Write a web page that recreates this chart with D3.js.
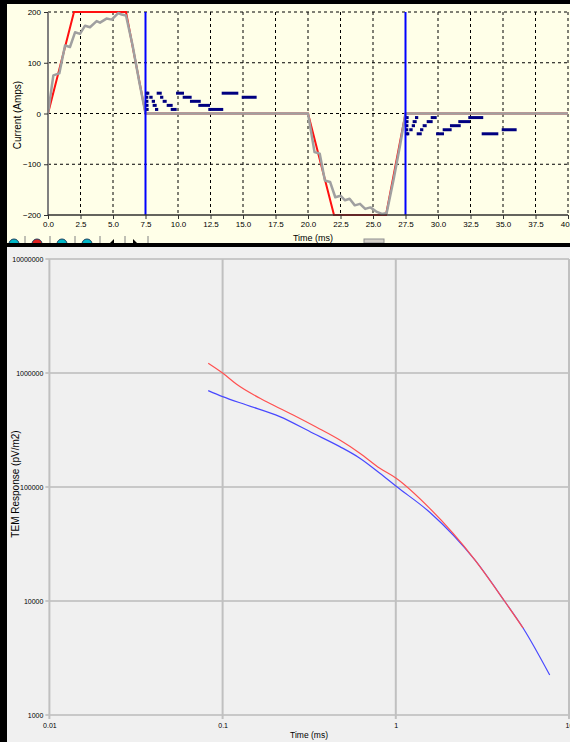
<!DOCTYPE html>
<html>
<head>
<meta charset="utf-8">
<script src="https://cdn.jsdelivr.net/npm/d3@7"></script>
<style>
  body { margin: 0; background: #000; }
  svg { display: block; font-family: "Liberation Sans", Arial, sans-serif; }
  .axis path { display: none; }
</style>
</head>
<body>
<script>
// top chart: transmitter current waveform
var waveTimes = [0, 2, 6, 7.5, 20, 22, 26, 27.5, 40];
var waveAmps = [0, 200, 200, 0, 0, -200, -200, 0, 0];

var measTimes = [0, 0.41, 0.87, 1.31, 1.69, 2.08, 2.46, 2.85, 3.23, 3.74, 4.0, 4.5, 4.9, 5.4, 5.67, 6.0, 6.5, 7.0, 7.5,
  20.0, 20.5, 20.9, 21.3, 21.7, 22.1, 22.5, 22.85, 23.2, 23.6, 24.0, 24.4, 24.8, 25.3, 25.7, 26.05, 26.6, 27.1, 27.5, 40];
var measAmps = [0, 75, 79, 134, 131, 160, 157, 173, 170, 182, 179, 187, 185, 198, 195, 193, 135, 65, 0,
  0, -76, -79, -132, -135, -165, -162, -171, -168, -181, -178, -188, -185, -194, -198, -196, -128, -60, 0, 0];

var offTimes = [7.5, 27.5];
var offSign = [1, -1];
// gate windows in ms after turn-off
var gateStart = [0.01, 0.02, 0.03, 0.04, 0.05, 0.10, 0.29, 0.48, 0.55, 0.73, 0.86, 1.12, 1.32, 1.63, 1.94, 2.35, 2.86, 3.42, 4.06, 4.83, 5.86, 7.40];
var gateEnd = [0.13, 0.12, 0.13, 0.14, 0.15, 0.22, 0.55, 0.73, 0.86, 0.98, 1.25, 1.37, 1.63, 2.09, 2.40, 2.96, 3.55, 4.25, 4.96, 5.98, 7.14, 8.55];
var gateLevels = [40, 32, 24, 16, 8];

var topXTicks = d3.range(0, 40.01, 2.5);
var topYTicks = [-200, -100, 0, 100, 200];

// bottom chart: decay curves
var redTimes = [0.0826, 0.1, 0.1205, 0.1795, 0.2556, 0.349, 0.475, 0.62, 0.809, 1.0, 1.57, 2.86, 4.26, 5.43];
var redResp = [1.22e6, 1.0e6, 7.96e5, 5.6e5, 4.28e5, 3.34e5, 2.58e5, 1.98e5, 1.46e5, 1.2e5, 6.5e4, 2.3e4, 9.9e3, 5.8e3];
var blueTimes = [0.0826, 0.1, 0.1375, 0.214, 0.333, 0.475, 0.62, 0.809, 1.0, 1.57, 2.86, 4.26, 5.43, 7.74];
var blueResp = [7.0e5, 6.2e5, 5.24e5, 4.14e5, 2.96e5, 2.26e5, 1.79e5, 1.32e5, 1.02e5, 6.0e4, 2.29e4, 9.9e3, 5.8e3, 2.24e3];

var logXTicks = [0.01, 0.1, 1, 10];
var logYTicks = [1000, 10000, 100000, 1000000, 10000000];

function main() {
  var svg = d3.select("body").append("svg")
    .attr("width", 570)
    .attr("height", 742);
  svg.append("rect").attr("width", 570).attr("height", 742).attr("fill", "#000");
  drawTop(svg.append("g"));
  drawBottom(svg.append("g"));
}

function drawTop(g) {
  g.append("rect").attr("x", 7).attr("y", 4).attr("width", 563).attr("height", 239).attr("fill", "#ffffe8");

  var x = d3.scaleLinear().domain([0, 40]).range([48, 568]);
  var y = d3.scaleLinear().domain([-200, 200]).range([215, 12]);

  // dashed grid
  g.selectAll(".vgrid").data(topXTicks.slice(1)).enter().append("line")
    .attr("x1", x).attr("x2", x).attr("y1", y(200)).attr("y2", y(-200))
    .attr("stroke", "#000").attr("stroke-dasharray", "3,3");
  g.selectAll(".hgrid").data(topYTicks.slice(1)).enter().append("line")
    .attr("x1", x(0)).attr("x2", x(40)).attr("y1", y).attr("y2", y)
    .attr("stroke", "#000").attr("stroke-dasharray", "3,3");

  var ideal = waveTimes.map(function(t, i) { return [t, waveAmps[i]]; });
  var meas = measTimes.map(function(t, i) { return [t, measAmps[i]]; });
  var line = d3.line().x(function(d) { return x(d[0]); }).y(function(d) { return y(d[1]); });

  g.append("path").attr("d", line(ideal)).attr("fill", "none").attr("stroke", "#ff1010").attr("stroke-width", 2);
  g.append("path").attr("d", line(meas)).attr("fill", "none").attr("stroke", "#a0a0a0").attr("stroke-width", 2.5)
    .attr("stroke-linejoin", "round");

  // turn-off markers
  g.selectAll(".off").data(offTimes).enter().append("line")
    .attr("x1", x).attr("x2", x).attr("y1", y(200)).attr("y2", y(-200))
    .attr("stroke", "#0000ff").attr("stroke-width", 2);

  // receiver gates
  for (var k = 0; k < offTimes.length; k++) {
    for (var i = 0; i < gateStart.length; i++) {
      var x1 = x(offTimes[k] + gateStart[i]);
      var x2 = Math.max(x(offTimes[k] + gateEnd[i]), x1 + 2.5);
      var gy = y(offSign[k] * gateLevels[i % 5]);
      g.append("line").attr("x1", x1).attr("x2", x2).attr("y1", gy).attr("y2", gy)
        .attr("stroke", "#000080").attr("stroke-width", 3);
    }
  }

  // axes
  g.append("line").attr("x1", x(0)).attr("x2", x(0)).attr("y1", y(200)).attr("y2", y(-200))
    .attr("stroke", "#808080").attr("stroke-width", 2);
  g.append("line").attr("x1", x(0)).attr("x2", x(40)).attr("y1", y(-200)).attr("y2", y(-200))
    .attr("stroke", "#303030").attr("stroke-width", 1.5);

  var ax = g.append("g").attr("class", "axis").attr("transform", "translate(0," + y(-200) + ")")
    .call(d3.axisBottom(x).tickValues(topXTicks).tickFormat(d3.format(".1f")).tickSize(4).tickPadding(2));
  var ay = g.append("g").attr("class", "axis").attr("transform", "translate(" + x(0) + ",0)")
    .call(d3.axisLeft(y).tickValues(topYTicks).tickFormat(d3.format("d")).tickSize(4).tickPadding(3));
  [ax, ay].forEach(function(a) {
    a.selectAll("text").attr("font-size", 8).attr("fill", "#000").attr("font-family", null);
    a.selectAll("line").attr("stroke", "#303030");
  });

  g.append("text").attr("x", 313).attr("y", 241).attr("text-anchor", "middle")
    .attr("font-size", 9).text("Time (ms)");
  g.append("text").attr("transform", "translate(21,115) rotate(-90)").attr("text-anchor", "middle")
    .attr("font-size", 10).text("Current (Amps)");

  // toolbar remnants along the lower edge
  var icons = [{ x: 14, c: "#00b8c8" }, { x: 37, c: "#e02020" }, { x: 62, c: "#00b8c8" }, { x: 87, c: "#00b8c8" }];
  g.selectAll(".icon").data(icons).enter().append("circle")
    .attr("cx", function(d) { return d.x; }).attr("cy", 244).attr("r", 5)
    .attr("fill", function(d) { return d.c; }).attr("stroke", "#204060");
  g.selectAll(".sep").data([25, 50, 75, 100, 125, 148]).enter().append("line")
    .attr("x1", function(d) { return d; }).attr("x2", function(d) { return d; })
    .attr("y1", 236).attr("y2", 243).attr("stroke", "#808080");
  g.append("path").attr("d", "M110,243 L114,239 L114,243 Z M137,243 L133,239 L133,243 Z").attr("fill", "#000");
  g.append("rect").attr("x", 364).attr("y", 239).attr("width", 20).attr("height", 4).attr("fill", "#d4d0c8")
    .attr("stroke", "#909090");
  g.append("rect").attr("x", 0).attr("y", 243).attr("width", 570).attr("height", 4).attr("fill", "#000");
}

function drawBottom(g) {
  g.append("rect").attr("x", 7).attr("y", 247).attr("width", 563).attr("height", 495).attr("fill", "#f0f0f0");

  var x = d3.scaleLog().domain([0.01, 10]).range([49.4, 569]);
  var y = d3.scaleLog().domain([1000, 1e7]).range([715, 259]);

  g.selectAll(".hgrid").data(logYTicks).enter().append("line")
    .attr("x1", x(0.01) - 4).attr("x2", x(10)).attr("y1", y).attr("y2", y)
    .attr("stroke", "#a0a0a0").attr("stroke-width", 1);
  g.selectAll(".vgrid").data(logXTicks).enter().append("line")
    .attr("x1", x).attr("x2", x).attr("y1", y(1e7)).attr("y2", y(1000) + 4)
    .attr("stroke", "#c0c0c0").attr("stroke-width", 2);

  var line = d3.line().curve(d3.curveMonotoneX)
    .x(function(d) { return x(d[0]); }).y(function(d) { return y(d[1]); });
  var red = redTimes.map(function(t, i) { return [t, redResp[i]]; });
  var blue = blueTimes.map(function(t, i) { return [t, blueResp[i]]; });
  g.append("path").attr("d", line(blue)).attr("fill", "none").attr("stroke", "#4848ff").attr("stroke-width", 1.2);
  g.append("path").attr("d", line(red)).attr("fill", "none").attr("stroke", "#ff5050").attr("stroke-width", 1.2);

  var ax = g.append("g").attr("class", "axis").attr("transform", "translate(0," + y(1000) + ")")
    .call(d3.axisBottom(x).tickValues(logXTicks).tickFormat(function(d) { return String(d); }).tickSize(0).tickPadding(8));
  var ay = g.append("g").attr("class", "axis").attr("transform", "translate(" + x(0.01) + ",0)")
    .call(d3.axisLeft(y).tickValues(logYTicks).tickFormat(d3.format("d")).tickSize(0).tickPadding(6));
  [ax, ay].forEach(function(a) {
    a.selectAll("text").attr("font-size", 7).attr("fill", "#000").attr("font-family", null);
  });

  g.append("text").attr("x", 309).attr("y", 738).attr("text-anchor", "middle")
    .attr("font-size", 8.5).text("Time (ms)");
  g.append("text").attr("transform", "translate(19,484) rotate(-90)").attr("text-anchor", "middle")
    .attr("font-size", 10).text("TEM Response (pV/m2)");
}

main();
</script>
</body>
</html>
